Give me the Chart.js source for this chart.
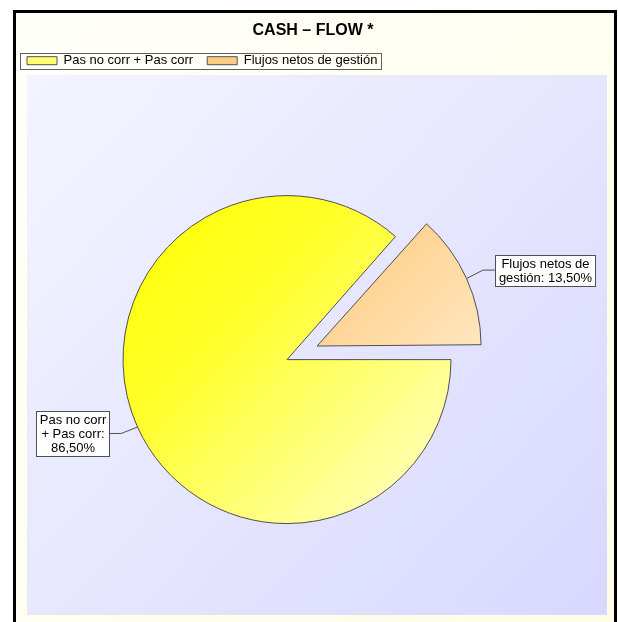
<!DOCTYPE html>
<html>
<head>
<meta charset="utf-8">
<title>CASH – FLOW</title>
<script src="https://cdn.jsdelivr.net/npm/chart.js@4"></script>
<style>
  html, body { margin: 0; padding: 0; background: #fff; overflow: hidden; }
  #wrap { width: 618px; height: 622px; overflow: hidden; }
</style>
</head>
<body>
<div id="wrap"><canvas id="cashFlow" width="618" height="660"></canvas></div>
<script>
// data
let categories = ['Pas no corr + Pas corr', 'Flujos netos de gestión'];
let shares = [86.5, 13.5];
let chartTitle = 'CASH – FLOW *';

// styling
const FONT = '"Liberation Sans", Arial, sans-serif';
const PIE_RADIUS = 164;
const explodePx = [0, 33];          // how far each slice is pulled out
const calloutWrap = [72, 100];      // max text width of each callout box
const swatch = ['#ffff70', '#ffcc84'];
const panel = { left: 27, top: 75, right: 607, bottom: 615 };

function pctText(v) {
    return v.toFixed(2).replace('.', ',') + '%';
}

function sliceFill(context) {
    const chart = context.chart;
    const area = chart.chartArea;
    const i = context.dataIndex;
    if (!area) return swatch[i];
    const cx = (area.left + area.right) / 2;
    const cy = (area.top + area.bottom) / 2;
    const r = PIE_RADIUS;
    let g;
    if (i === 0) {
        g = chart.ctx.createLinearGradient(cx - r, cy - r, cx + r, cy + r);
        g.addColorStop(0, '#ffff00');
        g.addColorStop(0.35, '#ffff28');
        g.addColorStop(1, '#ffffd0');
    } else {
        g = chart.ctx.createLinearGradient(cx, cy - r, cx + r, cy);
        g.addColorStop(0, '#ffc470');
        g.addColorStop(1, '#ffe6bf');
    }
    return g;
}

// frame, cream background and lavender plot panel
const backdrop = {
    id: 'backdrop',
    beforeDraw(chart) {
        const ctx = chart.ctx;
        ctx.save();
        ctx.fillStyle = '#ffffff';
        ctx.fillRect(0, 0, chart.width, chart.height);

        let cream = ctx.createLinearGradient(14, 11, 616, 640);
        cream.addColorStop(0, '#fffffa');
        cream.addColorStop(1, '#fffde6');
        ctx.fillStyle = cream;
        ctx.fillRect(14, 11, 602, chart.height);
        ctx.strokeStyle = '#000';
        ctx.lineWidth = 3;
        ctx.strokeRect(14.5, 11.5, 601, chart.height + 10);

        let lav = ctx.createLinearGradient(panel.left, panel.top, panel.right, panel.bottom);
        lav.addColorStop(0, '#f4f4ff');
        lav.addColorStop(1, '#d8d8ff');
        ctx.fillStyle = lav;
        ctx.fillRect(panel.left, panel.top, panel.right - panel.left, panel.bottom - panel.top);
        ctx.restore();
    }
};

// Chart.js grows a pulled-out slice a bit (offset/4 * fix); undo that growth
function growth(arc) {
    const off = (arc.options.offset || 0) / 4;
    return off * (1 - Math.sin(Math.min(Math.PI, arc.circumference)));
}

const trimExploded = {
    id: 'trimExploded',
    afterDatasetUpdate(chart, args) {
        args.meta.data.forEach(arc => {
            arc.outerRadius -= growth(arc);
        });
    }
};

function wrapWords(ctx, text, maxW) {
    let words = text.split(' ');
    let lines = [];
    let cur = '';
    words.forEach(w => {
        let test = cur ? cur + ' ' + w : w;
        if (cur && ctx.measureText(test).width > maxW) {
            lines.push(cur);
            cur = w;
        } else {
            cur = test;
        }
    });
    if (cur) lines.push(cur);
    return lines;
}

// boxed labels with leader lines
const callouts = {
    id: 'callouts',
    afterDatasetsDraw(chart) {
        const ctx = chart.ctx;
        const meta = chart.getDatasetMeta(0);
        ctx.save();
        ctx.font = '13px ' + FONT;
        meta.data.forEach((arc, i) => {
            const p = arc.getProps(['x', 'y', 'startAngle', 'endAngle', 'outerRadius'], true);
            const mid = (p.startAngle + p.endAngle) / 2;
            const dx = Math.cos(mid), dy = Math.sin(mid);
            const reach = p.outerRadius + growth(arc) + (arc.options.offset || 0) / 4;
            const ex = p.x + dx * reach, ey = p.y + dy * reach;
            const kx = ex + dx * 18, ky = ey + dy * 18 - 1;
            const side = dx >= 0 ? 1 : -1;
            const hx = kx + side * 12;

            ctx.strokeStyle = '#505050';
            ctx.lineWidth = 1;
            ctx.beginPath();
            ctx.moveTo(ex, ey);
            ctx.lineTo(kx, ky);
            ctx.lineTo(hx, ky);
            ctx.stroke();

            const lines = wrapWords(ctx, categories[i] + ': ' + pctText(shares[i]), calloutWrap[i]);
            const lh = 14;
            const w = Math.ceil(Math.max(...lines.map(l => ctx.measureText(l).width))) + 6;
            const h = Math.round(lines.length * lh + 3);
            const bx = Math.round(side > 0 ? hx : hx - w);
            const by = Math.round(ky - h / 2);
            ctx.fillStyle = '#ffffff';
            ctx.fillRect(bx, by, w, h);
            ctx.strokeStyle = '#505050';
            ctx.strokeRect(bx + 0.5, by + 0.5, w, h);
            ctx.fillStyle = '#000';
            ctx.textAlign = 'center';
            ctx.textBaseline = 'middle';
            lines.forEach((l, k) => {
                ctx.fillText(l, bx + w / 2 + 0.5, by + 2 + lh * k + lh / 2);
            });
        });
        ctx.restore();
    }
};

// thin box round the legend
const legendFrame = {
    id: 'legendFrame',
    afterDraw(chart) {
        const boxes = chart.legend.legendHitBoxes;
        if (!boxes || !boxes.length) return;
        const ctx = chart.ctx;
        const left = Math.min(...boxes.map(b => b.left)) - 7;
        const right = Math.max(...boxes.map(b => b.left + b.width)) + 4;
        const midY = boxes[0].top + boxes[0].height / 2;
        ctx.save();
        ctx.strokeStyle = '#606060';
        ctx.lineWidth = 1;
        ctx.strokeRect(Math.round(left) + 0.5, Math.round(midY - 8) + 0.5, Math.round(right - left), 16);
        ctx.restore();
    }
};

const chart = new Chart(document.getElementById('cashFlow'), {
    type: 'pie',
    data: {
        labels: categories,
        datasets: [{
            data: shares,
            backgroundColor: sliceFill,
            borderColor: '#505050',
            borderWidth: 1,
            offset: explodePx.map(v => v * 4), // v4 draws arcs at offset / 4
            radius: PIE_RADIUS
        }]
    },
    options: {
        responsive: false,
        animation: false,
        rotation: 90,
        layout: {
            padding: { left: 13, right: 5, top: 0, bottom: 18 }
        },
        plugins: {
            title: {
                display: true,
                text: chartTitle,
                color: '#000',
                font: { family: FONT, size: 16, weight: 'bold' },
                padding: { top: 21, bottom: 0 }
            },
            // empty right-hand block so the pie sits left of centre
            subtitle: {
                display: true,
                position: 'right',
                text: ' ',
                font: { size: 1 },
                padding: { top: 50.8, bottom: 0 }
            },
            legend: {
                position: 'top',
                align: 'start',
                labels: {
                    boxWidth: 30,
                    boxHeight: 8,
                    padding: 14,
                    color: '#000',
                    font: { family: FONT, size: 13 },
                    generateLabels() {
                        return categories.map((c, i) => ({
                            text: c,
                            fillStyle: swatch[i],
                            strokeStyle: '#505050',
                            lineWidth: 1,
                            hidden: false,
                            index: i
                        }));
                    }
                }
            },
            tooltip: { enabled: false }
        }
    },
    plugins: [backdrop, trimExploded, callouts, legendFrame]
});
</script>
</body>
</html>
